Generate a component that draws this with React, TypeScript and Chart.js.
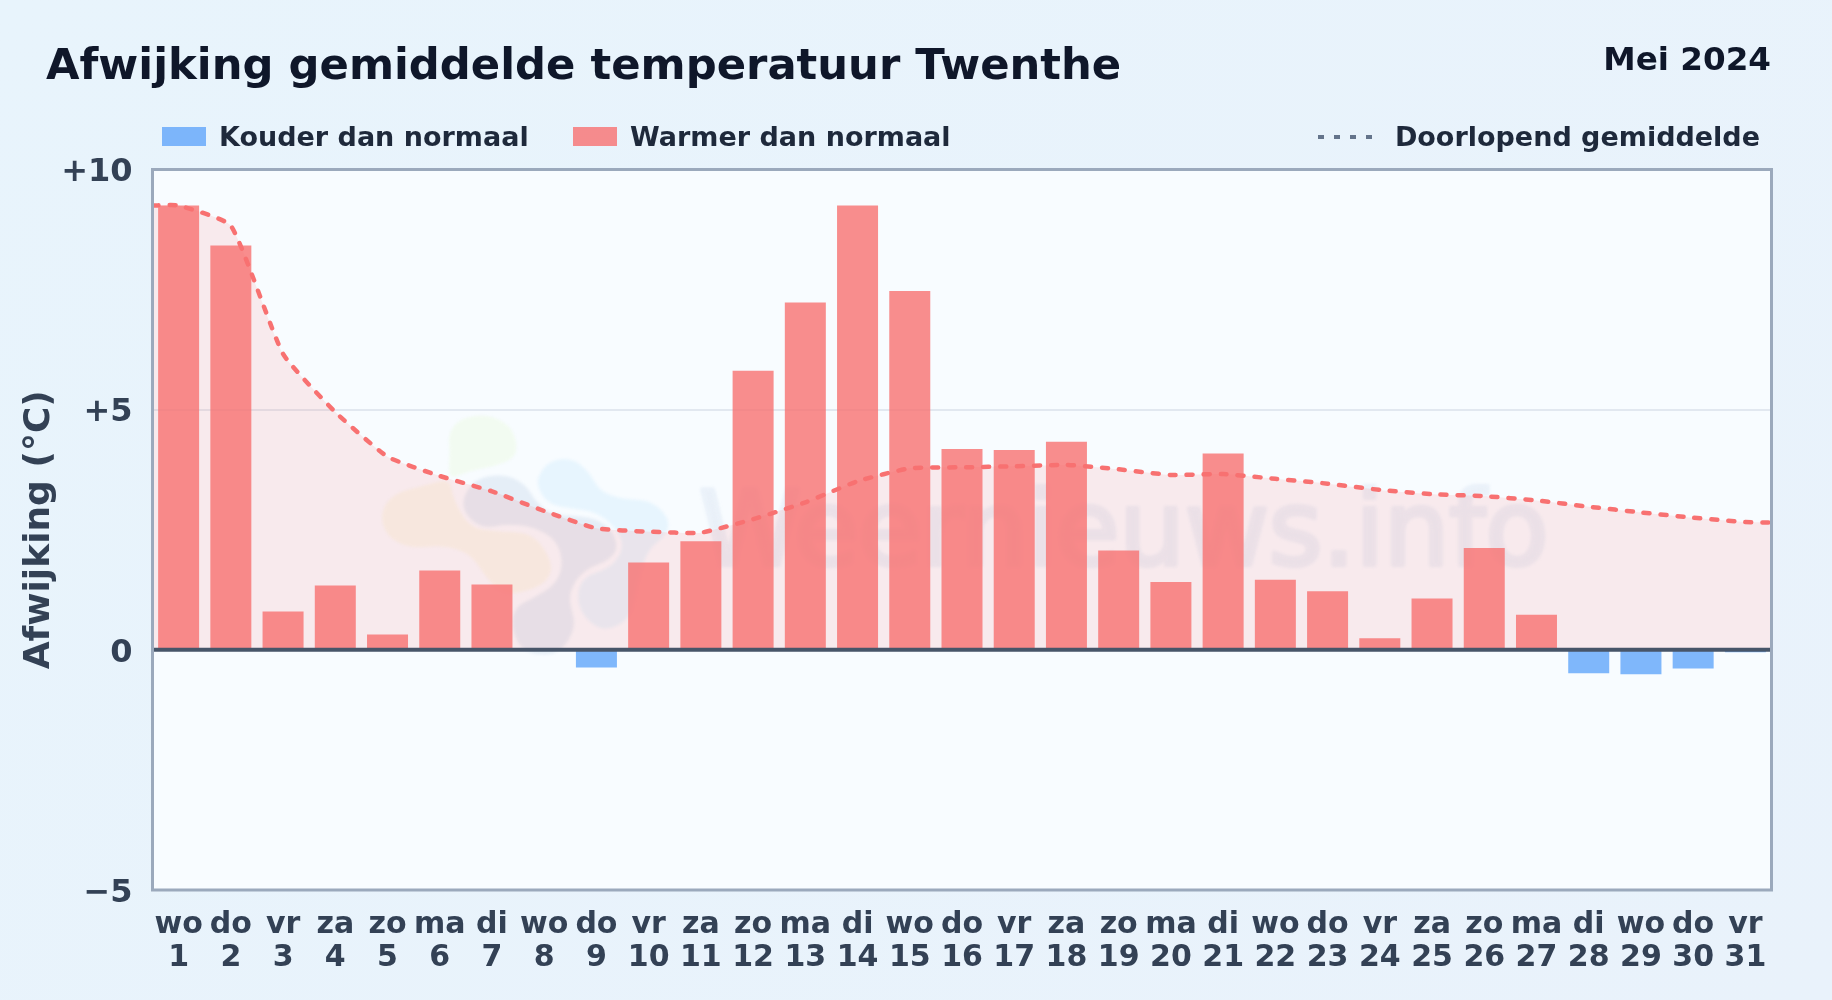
import React, { useEffect, useRef } from "react";
import { Chart, registerables } from "chart.js";

Chart.register(...registerables);

const weekdays = ["wo","do","vr","za","zo","ma","di","wo","do","vr","za","zo","ma","di","wo","do","vr","za","zo","ma","di","wo","do","vr","za","zo","ma","di","wo","do","vr"];
const days = ["1","2","3","4","5","6","7","8","9","10","11","12","13","14","15","16","17","18","19","20","21","22","23","24","25","26","27","28","29","30","31"];
const deviation = [9.25,8.42,0.8,1.34,0.32,1.65,1.36,0,-0.37,1.82,2.26,5.81,7.23,9.25,7.47,4.18,4.16,4.33,2.07,1.41,4.09,1.46,1.22,0.24,1.07,2.12,0.73,-0.49,-0.51,-0.39,-0.05];
const runningMean = [9.25,8.83,6.16,4.95,4.02,3.62,3.30,2.89,2.53,2.46,2.44,2.72,3.07,3.51,3.78,3.80,3.82,3.85,3.76,3.64,3.66,3.56,3.46,3.33,3.24,3.20,3.11,2.98,2.86,2.75,2.66];
const runningMeanStart = 9.25;
const runningMeanEnd = 2.65;
const yTickLabels: Record<string, string> = { "10": "+10", "5": "+5", "0": "0", "-5": "\u22125" };

const TITLE = "Afwijking gemiddelde temperatuur Twenthe";
const PERIOD = "Mei 2024";
const LEGEND_COLD = "Kouder dan normaal";
const LEGEND_WARM = "Warmer dan normaal";
const LEGEND_MEAN = "Doorlopend gemiddelde";
const WATERMARK = "Weernieuws.info";

const FONT = "'DejaVu Sans', sans-serif";
const COLD = "rgba(96,165,250,0.8)";
const WARM = "rgba(248,113,113,0.8)";
const PLOT_BG = "#F8FCFF";

// Faint logo behind the plot: closed outlines, in a 3x grid whose origin is at (360,400)
const logoBlobs: { color: string; outline: number[][] }[] = [
  { color: "#F2FBF1", outline: [[265,100],[300,55],[380,42],[450,75],[472,130],[465,175],[400,200],[340,210],[300,225],[265,235],[270,150]] },
  { color: "#F7F9EE", outline: [[60,340],[100,280],[200,255],[270,235],[280,300],[330,385],[420,395],[520,400],[580,490],[560,550],[480,580],[420,580],[370,520],[330,460],[250,435],[150,445],[80,410]] },
  { color: "#E7F5FE", outline: [[532,230],[570,180],[640,175],[690,220],[720,275],[790,298],[870,300],[925,350],[925,400],[860,450],[830,560],[810,660],[730,695],[670,650],[650,590],[670,530],[750,505],[790,450],[780,400],[720,340],[640,325],[570,315],[535,270]] },
  { color: "#E5EEF7", outline: [[305,300],[345,235],[430,222],[495,250],[530,310],[580,345],[690,350],[750,380],[775,440],[750,480],[680,505],[640,550],[625,600],[650,680],[600,760],[530,765],[480,745],[455,680],[465,620],[530,590],[590,550],[610,490],[590,420],[520,380],[440,372],[370,385],[320,350]] },
];

const decorPlugin = {
  id: "decor",
  beforeDraw(chart: any) {
    const { ctx, chartArea: a } = chart;
    ctx.save();
    ctx.fillStyle = PLOT_BG;
    ctx.fillRect(a.left, a.top, a.right - a.left, a.bottom - a.top);
    ctx.restore();
  },
  beforeDatasetsDraw(chart: any) {
    const { ctx, chartArea: a } = chart;
    ctx.save();
    ctx.beginPath();
    ctx.rect(a.left, a.top, a.right - a.left, a.bottom - a.top);
    ctx.clip();
    ctx.filter = "blur(1.5px)";
    for (const b of logoBlobs) {
      const pts = b.outline.map((p) => [p[0] / 3 + 360, p[1] / 3 + 400]);
      const n = pts.length;
      ctx.fillStyle = b.color;
      ctx.beginPath();
      ctx.moveTo((pts[n - 1][0] + pts[0][0]) / 2, (pts[n - 1][1] + pts[0][1]) / 2);
      for (let i = 0; i < n; i++) {
        const q = pts[(i + 1) % n];
        ctx.quadraticCurveTo(pts[i][0], pts[i][1], (pts[i][0] + q[0]) / 2, (pts[i][1] + q[1]) / 2);
      }
      ctx.closePath();
      ctx.fill();
    }
    ctx.fillStyle = "#EAF1F9";
    ctx.strokeStyle = "#EAF1F9";
    ctx.lineWidth = 4;
    ctx.lineJoin = "round";
    ctx.font = "103px " + FONT;
    ctx.textAlign = "left";
    ctx.textBaseline = "alphabetic";
    ctx.fillText(WATERMARK, 699, 565);
    ctx.strokeText(WATERMARK, 699, 565);
    ctx.restore();
  },
  afterDatasetsDraw(chart: any) {
    const { ctx, chartArea: a, scales } = chart;
    const y0 = scales.y.getPixelForValue(0);
    ctx.save();
    ctx.strokeStyle = "#475569";
    ctx.lineWidth = 4;
    ctx.beginPath();
    ctx.moveTo(a.left, y0);
    ctx.lineTo(a.right, y0);
    ctx.stroke();
    ctx.strokeStyle = "#9BA9BC";
    ctx.lineWidth = 3;
    ctx.strokeRect(a.left, a.top, a.right - a.left, a.bottom - a.top);
    ctx.restore();
  },
};

const textStyle = (o: React.CSSProperties): React.CSSProperties => ({
  position: "absolute",
  whiteSpace: "nowrap",
  fontFamily: FONT,
  fontWeight: 700,
  lineHeight: 1,
  ...o,
});

export default function App() {
  const ref = useRef<HTMLCanvasElement>(null);
  useEffect(() => {
    document.body.style.margin = "0";
    const meanPoints = [
      { x: 0.5, y: runningMeanStart },
      ...runningMean.map((y, i) => ({ x: i + 1, y })),
      { x: 31.5, y: runningMeanEnd },
    ];
    const chart = new Chart(ref.current as HTMLCanvasElement, {
      type: "bar",
      data: {
        labels: weekdays.map((w, i) => [w, days[i]]),
        datasets: [
          {
            type: "line",
            label: LEGEND_MEAN,
            data: meanPoints,
            xAxisID: "x2",
            order: 0,
            borderColor: "#F87171",
            borderWidth: 4.5,
            borderDash: [6, 11],
            borderCapStyle: "round",
            pointRadius: 0,
            tension: 0.15,
            fill: { target: "origin", above: "rgba(248,113,113,0.13)" },
          },
          {
            label: LEGEND_WARM,
            data: deviation.map((v) => (v > 0 ? v : null)),
            backgroundColor: WARM,
            barPercentage: 0.785,
            categoryPercentage: 1,
            grouped: false,
            order: 1,
          },
          {
            label: LEGEND_COLD,
            data: deviation.map((v) => (v < 0 ? v : null)),
            backgroundColor: COLD,
            barPercentage: 0.785,
            categoryPercentage: 1,
            grouped: false,
            order: 1,
          },
        ] as any,
      },
      options: {
        animation: false,
        responsive: false,
        devicePixelRatio: 1,
        layout: { padding: { top: 169.5, right: 60.5, left: 0, bottom: 0 } },
        plugins: { legend: { display: false }, tooltip: { enabled: false }, title: { display: false } },
        scales: {
          x: {
            type: "category",
            afterFit: (s: any) => { s.height = 110; },
            grid: { display: false },
            border: { display: false },
            ticks: {
              autoSkip: false,
              maxRotation: 0,
              minRotation: 0,
              padding: 10,
              color: "#334155",
              font: { family: FONT, size: 30, weight: "bold", lineHeight: 1.12 },
            },
          },
          x2: { type: "linear", display: false, min: 0.5, max: 31.5, offset: false, grid: { offset: false } },
          y: {
            min: -5,
            max: 10,
            afterFit: (s: any) => { s.width = 152.5; },
            border: { display: false },
            grid: {
              color: (c: any) => (c.tick && c.tick.value === 5 ? "#E2E8F0" : "rgba(0,0,0,0)"),
              lineWidth: 2,
              drawTicks: false,
            },
            ticks: {
              stepSize: 5,
              padding: 20,
              color: "#334155",
              font: { family: FONT, size: 32, weight: "bold", lineHeight: "7px" },
              callback: (v: any) => ["", yTickLabels[String(v)] ?? ""],
            },
            title: {
              display: true,
              text: "Afwijking (\u00B0C)",
              color: "#334155",
              padding: { top: 18, bottom: 0 },
              font: { family: FONT, size: 36, weight: "bold" },
            },
          },
        },
      } as any,
      plugins: [decorPlugin],
    });
    return () => chart.destroy();
  }, []);

  return (
    <div style={{ position: "relative", width: 1832, height: 1000, overflow: "hidden", background: "linear-gradient(135deg,#E8F4FC 0%,#E9F2FB 100%)" }}>
      <canvas ref={ref} width={1832} height={1000} style={{ display: "block", position: "absolute", left: 0, top: 0, width: 1832, height: 1000 }} />
      <div style={textStyle({ left: 46, top: 43, fontSize: 43.3, color: "#0F172A" })}>{TITLE}</div>
      <div style={textStyle({ right: 61, top: 43, fontSize: 32.6, color: "#0F172A" })}>{PERIOD}</div>
      <div style={{ position: "absolute", left: 162, top: 127, width: 44, height: 19, background: COLD }} />
      <div style={textStyle({ left: 219, top: 123, fontSize: 27, color: "#1E293B" })}>{LEGEND_COLD}</div>
      <div style={{ position: "absolute", left: 573, top: 127, width: 44, height: 19, background: WARM }} />
      <div style={textStyle({ left: 630, top: 123, fontSize: 27, color: "#1E293B" })}>{LEGEND_WARM}</div>
      <svg style={{ position: "absolute", left: 1316, top: 130, width: 60, height: 14 }}>
        <line x1="2" y1="7" x2="58" y2="7" stroke="#64748B" strokeWidth="4" strokeDasharray="6 10" />
      </svg>
      <div style={textStyle({ right: 72, top: 123, fontSize: 27, color: "#1E293B" })}>{LEGEND_MEAN}</div>
    </div>
  );
}
